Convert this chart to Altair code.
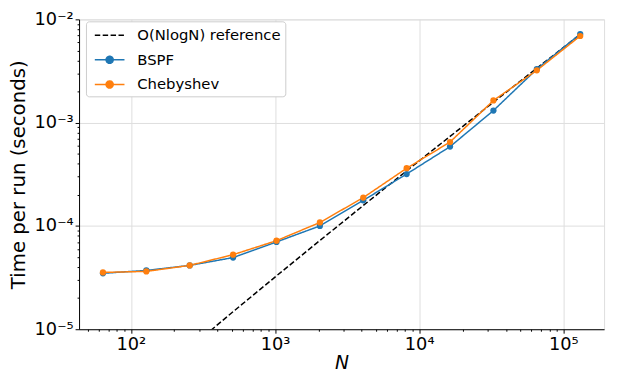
import altair as alt
import pandas as pd

N = [64, 128, 256, 512, 1024, 2048, 4096, 8192, 16384, 32768, 65536, 131072]
bspf = [3.48e-5, 3.71e-5, 4.15e-5, 4.94e-5, 7.0e-5, 1.0e-4, 1.77e-4, 3.18e-4, 5.86e-4, 1.31e-3, 3.3e-3, 7.2e-3]
cheb = [3.55e-5, 3.63e-5, 4.15e-5, 5.27e-5, 7.2e-5, 1.08e-4, 1.88e-4, 3.62e-4, 6.49e-4, 1.64e-3, 3.21e-3, 6.9e-3]
ref = [1.232e-6, 2.875e-6, 6.572e-6, 1.479e-5, 3.286e-5, 7.229e-5, 1.577e-4,
       3.418e-4, 7.361e-4, 1.577e-3, 3.365e-3, 7.15e-3]

series_names = ["O(NlogN) reference", "BSPF", "Chebyshev"]
colors = ["black", "#1f77b4", "#ff7f0e"]

x_ticks = [50, 60, 70, 80, 90, 100, 200, 300, 400, 500, 600, 700, 800, 900,
           1000, 2000, 3000, 4000, 5000, 6000, 7000, 8000, 9000,
           10000, 20000, 30000, 40000, 50000, 60000, 70000, 80000, 90000, 100000]
y_ticks = [1e-5, 2e-5, 3e-5, 4e-5, 5e-5, 6e-5, 7e-5, 8e-5, 9e-5,
           1e-4, 2e-4, 3e-4, 4e-4, 5e-4, 6e-4, 7e-4, 8e-4, 9e-4,
           1e-3, 2e-3, 3e-3, 4e-3, 5e-3, 6e-3, 7e-3, 8e-3, 9e-3, 1e-2]

rows = []
for name, vals in zip(series_names, [ref, bspf, cheb]):
    for n, v in zip(N, vals):
        rows.append({"N": n, "t": v, "series": name})
df = pd.DataFrame(rows)

major_test = "abs(log(datum.value)/LN10 - round(log(datum.value)/LN10)) < 1e-6"

x_axis = alt.Axis(
    values=x_ticks,
    labelExpr="datum.value == 100 ? '10²' : datum.value == 1000 ? '10³' : datum.value == 10000 ? '10⁴' : datum.value == 100000 ? '10⁵' : ''",
    labelFontSize=18, labelFont="DejaVu Sans", labelColor="black",
    title="N", titleFontStyle="italic", titleFontWeight="normal", titleFontSize=19,
    titleFont="DejaVu Sans", titleColor="black", titlePadding=0,
    gridOpacity={"condition": {"test": major_test, "value": 1}, "value": 0},
    tickSize={"condition": {"test": major_test, "value": 4}, "value": 2},
    gridColor="#dddddd", tickColor="black", domainColor="black", labelPadding=3,
    labelFlush=False, labelOverlap=False,
)
y_axis = alt.Axis(
    values=y_ticks,
    labelExpr="datum.value == 0.01 ? '10⁻²' : datum.value == 0.001 ? '10⁻³' : datum.value == 0.0001 ? '10⁻⁴' : datum.value == 0.00001 ? '10⁻⁵' : ''",
    labelFontSize=18, labelFont="DejaVu Sans", labelColor="black",
    title="Time per run (seconds)", titleFontWeight="normal", titleFontSize=20,
    titleFont="DejaVu Sans", titleColor="black", titlePadding=6,
    gridOpacity={"condition": {"test": major_test, "value": 1}, "value": 0},
    tickSize={"condition": {"test": major_test, "value": 4}, "value": 2},
    gridColor="#dddddd", tickColor="black", domainColor="black", labelPadding=2,
    labelFlush=False, labelOverlap=False,
)

xs = alt.Scale(type="log", domain=[43.7, 191900], nice=False)
ys = alt.Scale(type="log", domain=[1e-5, 1e-2], nice=False)

legend = alt.Legend(
    title=None, orient="none", legendX=7, legendY=2,
    labelFontSize=15, labelFont="DejaVu Sans", labelColor="black",
    symbolSize=324, symbolStrokeWidth=1.5, symbolOffset=10, labelOffset=18,
    strokeColor="#cccccc", fillColor="white", cornerRadius=3, padding=4,
    rowPadding=7,
)

color = alt.Color("series:N", scale=alt.Scale(domain=series_names, range=colors), legend=legend,
                  sort=series_names)

line_path = "M-1.67,0H1.67"
dot_path = "M-1.67,0H1.67M-0.4,0A0.4,0.4,0,1,0,0.4,0A0.4,0.4,0,1,0,-0.4,0Z"

lines = alt.Chart(df).mark_line(strokeWidth=1.5, clip=True).encode(
    x=alt.X("N:Q", scale=xs, axis=x_axis),
    y=alt.Y("t:Q", scale=ys, axis=y_axis),
    color=color,
    strokeDash=alt.StrokeDash("series:N", scale=alt.Scale(domain=series_names, range=[[5.5, 2.5], [1, 0], [1, 0]]),
                              legend=legend, sort=series_names),
    detail="series:N",
)

points = alt.Chart(df[df.series != series_names[0]]).mark_circle(size=40, opacity=1, clip=True).encode(
    x=alt.X("N:Q", scale=xs),
    y=alt.Y("t:Q", scale=ys),
    color=color,
)

# legend-only layer: carries the legend symbol shapes, draws no marks
legend_layer = alt.Chart(df).transform_filter("false").mark_point(filled=True, opacity=1, clip=True).encode(
    x=alt.X("N:Q", scale=xs),
    y=alt.Y("t:Q", scale=ys),
    color=color,
    shape=alt.Shape("series:N", scale=alt.Scale(domain=series_names, range=[line_path, dot_path, dot_path]),
                    legend=legend, sort=series_names),
)

chart = alt.layer(lines, points, legend_layer).properties(
    width=532, height=314,
    autosize=alt.AutoSizeParams(type="none"),
    padding={"left": 72, "top": 9, "right": 6, "bottom": 54},
).configure_view(stroke="black", strokeWidth=1).configure(font="DejaVu Sans")

chart.save("out.html", embed_options={"renderer": "svg", "actions": False})
